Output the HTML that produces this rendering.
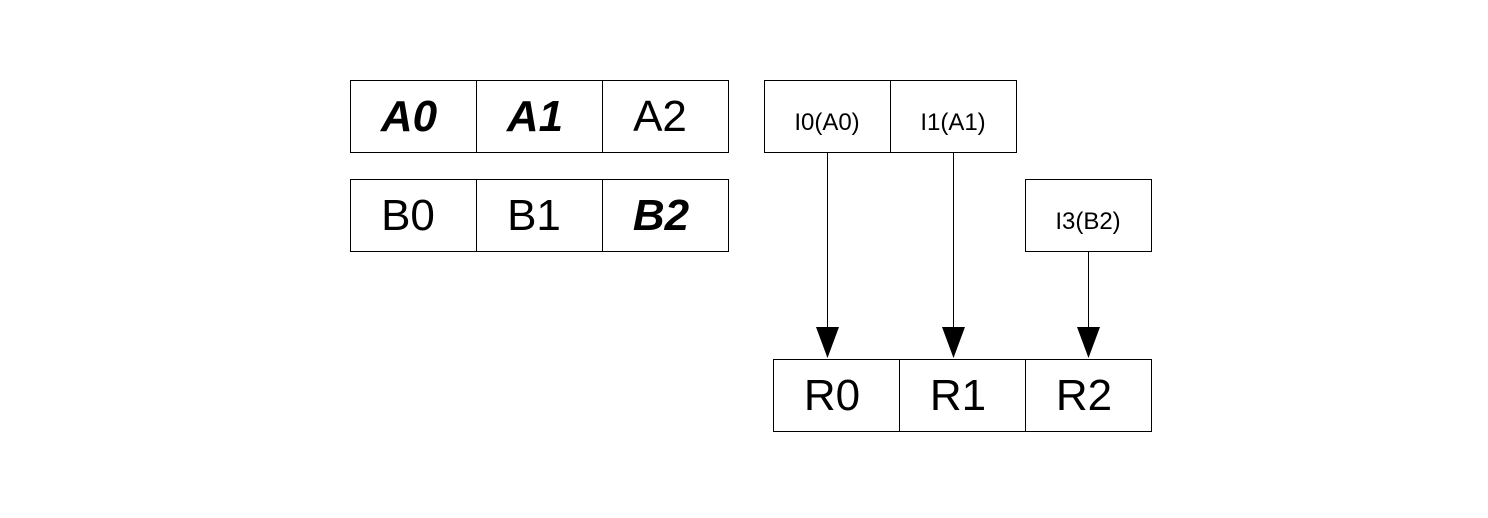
<!DOCTYPE html>
<html><head><style>body{margin:0;background:#fff}</style></head><body>
<svg width="1488" height="518" xmlns="http://www.w3.org/2000/svg" style="display:block">
<rect width="1488" height="518" fill="#fff"/>
<g fill="none" stroke="#000" stroke-width="1">
<rect x="350.5" y="80.5" width="378" height="72"/>
<line x1="476.5" y1="80" x2="476.5" y2="152"/><line x1="602.5" y1="80" x2="602.5" y2="152"/>
<rect x="350.5" y="179.5" width="378" height="72"/>
<line x1="476.5" y1="179" x2="476.5" y2="251"/><line x1="602.5" y1="179" x2="602.5" y2="251"/>
<rect x="764.5" y="80.5" width="252" height="72"/>
<line x1="890.5" y1="80" x2="890.5" y2="152"/>
<rect x="1025.5" y="179.5" width="126" height="72"/>
<rect x="773.5" y="359.5" width="378" height="72"/>
<line x1="899.5" y1="359" x2="899.5" y2="431"/><line x1="1025.5" y1="359" x2="1025.5" y2="431"/>
<line x1="827.5" y1="152" x2="827.5" y2="330"/>
<line x1="953.5" y1="152" x2="953.5" y2="330"/>
<line x1="1088.5" y1="251" x2="1088.5" y2="330"/>
</g>
<g fill="#000">
<polygon points="816,327 839,327 827.5,358"/>
<polygon points="942,327 965,327 953.5,358"/>
<polygon points="1077,327 1100,327 1088.5,358"/>
</g>
<g font-family="Liberation Sans, sans-serif" font-size="44" text-anchor="middle">
<text x="409" y="131" font-weight="bold" font-style="italic">A0</text>
<text x="535" y="131" font-weight="bold" font-style="italic">A1</text>
<text x="660" y="131">A2</text>
<text x="408" y="230">B0</text>
<text x="534" y="230">B1</text>
<text x="661" y="230" font-weight="bold" font-style="italic">B2</text>
<text x="832" y="410">R0</text>
<text x="958" y="410">R1</text>
<text x="1084" y="410">R2</text>
</g>
<g font-family="Liberation Sans, sans-serif" font-size="24" text-anchor="middle">
<text x="827" y="130">I0(A0)</text>
<text x="953" y="130">I1(A1)</text>
<text x="1088" y="229">I3(B2)</text>
</g>
</svg>
</body></html>
